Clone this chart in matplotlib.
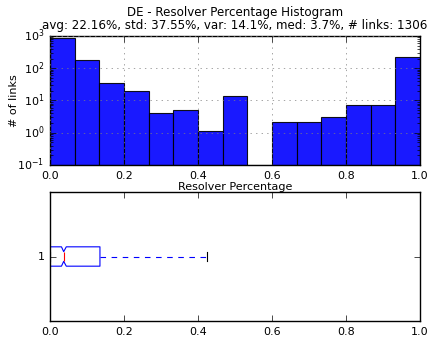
import numpy as np
import matplotlib
matplotlib.use('Agg')
import matplotlib.pyplot as plt

plt.style.use('classic')
plt.rcParams['figure.facecolor'] = 'white'
plt.rcParams['savefig.facecolor'] = 'white'
plt.rcParams['font.size'] = 8

# histogram counts per bin (15 bins on 0..1)
binEdges = np.linspace(0, 1, 16)
counts = [850, 175, 35, 20, 4, 5, 1, 14, 0, 2, 2, 3, 7, 7, 230]

# boxplot summary
boxStats = [{'med': 0.037, 'q1': 0.0, 'q3': 0.135, 'whislo': 0.0, 'whishi': 0.425,
             'cilo': 0.031, 'cihi': 0.044, 'fliers': [], 'label': '1'}]

title = 'DE - Resolver Percentage Histogram\navg: 22.16%, std: 37.55%, var: 14.1%, med: 3.7%, # links: 1306'

fig = plt.figure(figsize=(4.3, 3.38), dpi=100)
ax1 = fig.add_axes([50/430, 1-165/338, 370/430, 129/338])
ax2 = fig.add_axes([50/430, 1-321/338, 370/430, 129/338])

widths = np.diff(binEdges)
ax1.bar(binEdges[:-1], counts, width=widths, align='edge', color='blue',
        alpha=0.9, edgecolor='black', linewidth=0.8, log=True, bottom=0.1)
ax1.set_yscale('log')
ax1.set_ylim(0.1, 1000)
ax1.set_xlim(0, 1)
ax1.grid(True, color='gray', linestyle=':')
ax1.set_ylabel('# of links', fontsize=8)
ax1.yaxis.set_label_coords(-0.085, 0.5)
ax1.set_xlabel('Resolver Percentage', fontsize=8, labelpad=1)
ax1.set_title(title, fontsize=8.6, linespacing=1.0)
ax1.tick_params(labelsize=8)

ax2.bxp(boxStats, vert=False, shownotches=True, showfliers=False,
        boxprops=dict(color='blue', linewidth=0.8),
        whiskerprops=dict(color='blue', linestyle=(0, (4, 4)), linewidth=0.8),
        capprops=dict(color='black', linewidth=0.8), medianprops=dict(color='red', linewidth=0.8))
ax2.set_xlim(0, 1)
ax2.set_ylim(0.5, 1.5)
ax2.tick_params(labelsize=8)

plt.savefig('out.png', dpi=100)
